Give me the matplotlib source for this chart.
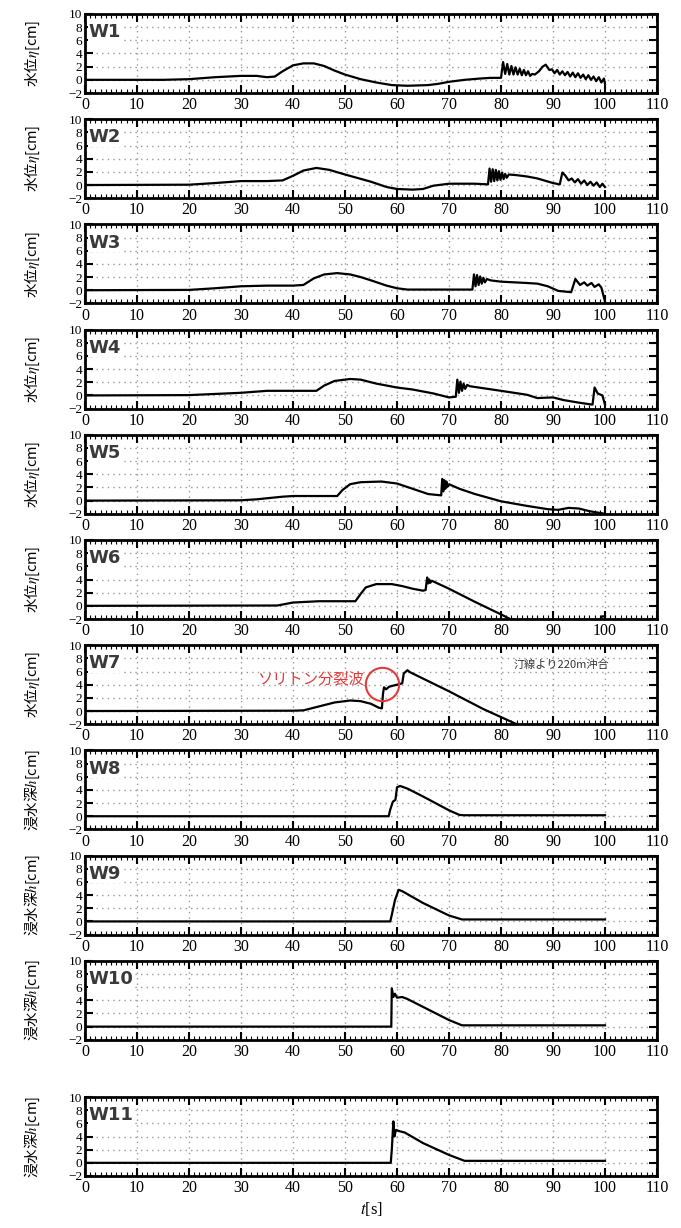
import matplotlib.pyplot as plt
from matplotlib.ticker import MultipleLocator

# (time [s], level [cm])
W1 = [(0, 0), (15, 0), (20, 0.1), (25, 0.4), (30, 0.6), (33, 0.6), (35, 0.4), (36.5, 0.5),
      (38, 1.3), (40, 2.2), (42, 2.5), (44, 2.5), (46, 2.1), (48, 1.4), (50, 0.8), (53, 0.1),
      (56, -0.4), (59, -0.8), (62, -0.9), (66, -0.8), (68, -0.6), (70, -0.3), (73, 0.0),
      (76, 0.2), (78, 0.3), (80, 0.3), (80.4, 2.7), (80.8, 0.9), (81.2, 2.4), (81.6, 0.8),
      (82.0, 2.1), (82.4, 0.8), (82.8, 1.9), (83.2, 0.8), (83.6, 1.7), (84.0, 0.7), (84.4, 1.5),
      (84.8, 0.7), (85.2, 1.3), (85.6, 0.6), (86.0, 0.9), (86.5, 0.8), (87.3, 1.3), (88.0, 2.0),
      (88.6, 2.3), (89.3, 1.5), (89.8, 1.6), (90.3, 1.0), (90.8, 1.5), (91.3, 0.8), (91.8, 1.3),
      (92.3, 0.7), (92.8, 1.2), (93.3, 0.5), (93.8, 1.1), (94.3, 0.4), (94.8, 1.0), (95.3, 0.3),
      (95.8, 0.8), (96.3, 0.1), (96.8, 0.7), (97.3, 0.0), (97.8, 0.5), (98.3, -0.2), (98.8, 0.4),
      (99.3, -0.4), (99.8, 0.2), (100, -0.6)]
W2 = [(0, 0), (20, 0.05), (25, 0.3), (30, 0.6), (35, 0.6), (38, 0.7), (40, 1.4), (42, 2.2),
      (44.5, 2.6), (47, 2.3), (50, 1.6), (55, 0.5), (58, -0.3), (60, -0.6), (63, -0.7),
      (65, -0.6), (67, -0.1), (70, 0.2), (75, 0.2), (77.5, 0.1), (77.8, 2.5), (78.1, 0.5),
      (78.4, 2.4), (78.7, 0.6), (79.0, 2.3), (79.3, 0.7), (79.6, 2.1), (79.9, 0.8), (80.2, 1.9),
      (80.5, 0.9), (80.8, 1.7), (81.1, 1.1), (81.5, 1.6), (83, 1.5), (85, 1.3), (87, 1.0),
      (90, 0.3), (91.3, 0.1), (91.8, 1.9), (92.4, 1.4), (93.0, 0.7), (93.6, 1.0), (94.2, 0.4),
      (94.8, 0.9), (95.4, 0.2), (96.0, 0.7), (96.6, 0.0), (97.2, 0.5), (97.8, -0.1), (98.4, 0.4),
      (99.0, -0.3), (99.5, 0.2), (100, -0.3)]
W3 = [(0, 0), (20, 0.05), (25, 0.3), (30, 0.6), (35, 0.7), (40, 0.7), (42, 0.8), (44, 1.8),
      (46, 2.4), (48.5, 2.6), (51, 2.4), (53, 2.0), (55, 1.5), (58, 0.7), (60, 0.3), (62, 0.1),
      (70, 0.1), (74.5, 0.1), (74.8, 2.4), (75.1, 0.6), (75.4, 2.3), (75.7, 0.8), (76.0, 2.1),
      (76.3, 1.0), (76.6, 1.9), (76.9, 1.2), (77.3, 1.7), (78, 1.5), (80, 1.3), (85, 1.1),
      (87, 1.0), (89, 0.6), (91, -0.1), (93.5, -0.3), (94.3, 1.7), (95.2, 0.8), (96.0, 1.2),
      (96.6, 0.7), (97.4, 1.1), (98.0, 0.5), (98.8, 0.9), (99.3, 0.4), (100, -1.7)]
W4 = [(0, 0), (20, 0.05), (30, 0.4), (35, 0.7), (44.5, 0.7), (46, 1.5), (48, 2.2), (51, 2.5),
      (53, 2.4), (56, 1.8), (60, 1.2), (63, 0.9), (67, 0.3), (70, -0.3), (71.3, -0.2),
      (71.6, 2.4), (71.9, 0.4), (72.2, 2.1), (72.5, 0.7), (72.8, 1.8), (73.1, 1.0), (73.5, 1.6),
      (74, 1.4), (80, 0.7), (85, 0.1), (87, -0.4), (90, -0.3), (92, -0.7), (95, -1.1),
      (97.6, -1.4), (98.0, 1.2), (98.6, 0.3), (99.5, 0.0), (100, -1.4)]
W5 = [(0, 0), (30, 0.05), (33, 0.2), (38, 0.6), (40, 0.7), (48.5, 0.7), (49.5, 1.6),
      (51, 2.5), (53, 2.8), (57, 2.9), (60, 2.6), (63, 1.8), (66, 1.0), (68.5, 0.8), (68.7, 3.3),
      (68.9, 1.4), (69.1, 3.1), (69.3, 1.8), (69.5, 2.9), (69.7, 2.1), (70.0, 2.5), (72, 1.8),
      (75, 1.0), (80, -0.1), (85, -0.8), (89, -1.3), (91, -1.4), (93, -1.1), (95, -1.2),
      (97, -1.6), (100, -2.0)]
W6 = [(0, 0), (37, 0.05), (40, 0.5), (45, 0.7), (52, 0.7), (53, 1.8), (54, 2.8), (56, 3.3),
      (59, 3.3), (61, 3.0), (63, 2.6), (65, 2.3), (65.5, 2.4), (65.8, 4.3), (66.0, 3.4),
      (66.2, 4.0), (66.4, 3.5), (66.7, 3.8), (67, 3.7), (70, 2.6), (75, 0.6), (80, -1.3),
      (82, -2.1), (85, -2.5), (95, -2.4), (99.2, -2.1), (99.4, -1.6), (100, -1.6)]
W7 = [(0, 0), (40, 0.05), (42, 0.1), (45, 0.7), (48, 1.3), (51, 1.6), (53, 1.5), (55, 1.1),
      (56.5, 0.5), (57.1, 0.4), (57.3, 2.6), (57.5, 3.6), (57.9, 3.3), (58.5, 3.7), (60, 4.0),
      (61.0, 4.2), (61.3, 5.7), (62.0, 6.2), (62.5, 5.9), (70, 3.0), (76.6, 0.3), (83.0, -2.0),
      (84, -2.5)]
W8 = [(0, 0), (58.4, 0.0), (58.7, 1.0), (59.2, 2.2), (59.7, 2.5), (60.0, 4.4), (60.6, 4.6),
      (62, 4.2), (65, 3.0), (70, 0.9), (72, 0.2), (73, 0.15), (100, 0.15)]
W9 = [(0, 0), (58.7, 0.0), (59.0, 1.0), (59.6, 3.2), (60.3, 4.8), (61, 4.6), (65, 2.8),
      (70, 0.9), (72.5, 0.3), (100, 0.3)]
W10 = [(0, 0), (58.9, 0.0), (59.0, 5.8), (59.3, 4.5), (59.6, 5.0), (60.0, 4.4), (61, 4.5),
       (62, 4.2), (65, 3.0), (70, 1.0), (72.5, 0.2), (100, 0.2)]
W11 = [(0, 0), (58.8, 0.0), (59.0, 2.0), (59.3, 6.3), (59.5, 4.0), (59.8, 5.0), (60.5, 4.8),
       (61.5, 4.6), (65, 3.0), (70, 1.2), (73, 0.3), (100, 0.3)]

series = [W1, W2, W3, W4, W5, W6, W7, W8, W9, W10, W11]
names = ['W1', 'W2', 'W3', 'W4', 'W5', 'W6', 'W7', 'W8', 'W9', 'W10', 'W11']
ylabels = ['水位$\\eta$[cm]'] * 7 + ['浸水深$h$[cm]'] * 4
x_ticks = list(range(0, 111, 10))
y_ticks = [-2, 0, 2, 4, 6, 8, 10]

plt.rcParams['font.family'] = ['Liberation Serif', 'DejaVu Serif']
plt.rcParams['mathtext.fontset'] = 'stix'

W, H = 681, 1228
fig = plt.figure(figsize=(W / 100, H / 100), dpi=100)

tops = [14 + 105.2 * i for i in range(10)] + [1097]
height = 79

for i, (data, name) in enumerate(zip(series, names)):
    ax = fig.add_axes([85 / W, 1 - (tops[i] + height) / H, 572 / W, height / H])
    t = [p[0] for p in data]
    y = [p[1] for p in data]
    ax.plot(t, y, color='black', lw=1.6)
    ax.set_xlim(0, 110)
    ax.set_ylim(-2, 10)
    ax.set_xticks(x_ticks)
    ax.set_yticks(y_ticks)
    ax.set_yticklabels(['\u22122' if v < 0 else str(v) for v in y_ticks])
    ax.xaxis.set_minor_locator(MultipleLocator(1))
    ax.tick_params(which='both', direction='in', top=True, right=True)
    ax.tick_params(axis='x', labelsize=11.5, pad=3)
    ax.tick_params(axis='y', labelsize=9.5, pad=2)
    ax.tick_params(which='major', length=6, width=1.5)
    ax.tick_params(which='minor', length=3, width=0.8)
    ax.grid(True, which='major', color='#999999', linestyle=(0, (1, 3)), linewidth=1.0)
    for s in ax.spines.values():
        s.set_linewidth(2)
    ax.text(0.006, 0.77, name, transform=ax.transAxes, fontsize=13, fontweight='bold',
            family=['DejaVu Sans'], color='#3a3a3a', va='center', ha='left',
            bbox=dict(facecolor='white', edgecolor='none', pad=0.5))
    ax.set_ylabel(ylabels[i], family=['Noto Sans CJK JP', 'DejaVu Sans'], fontsize=10.5)
    ax.yaxis.set_label_coords(-0.075, 0.5)

    if name == 'W7':
        ax.text(53.6, 4.9, 'ソリトン分裂波', color='#e03c3c', fontsize=11, ha='right',
                va='center', family=['Noto Sans CJK JP'])
        ax.plot([57.1], [4.1], marker='o', markersize=24, mfc='none', mec='#e03c3c', mew=1.5)
        ax.text(82.5, 7.0, '汀線より220m沖合', fontsize=8, ha='left', va='center',
                family=['Noto Sans CJK JP'], color='#333333')
    if name == 'W11':
        ax.set_xlabel('$t$[s]', fontsize=12, labelpad=3)

fig.savefig('out.png', dpi=100)
